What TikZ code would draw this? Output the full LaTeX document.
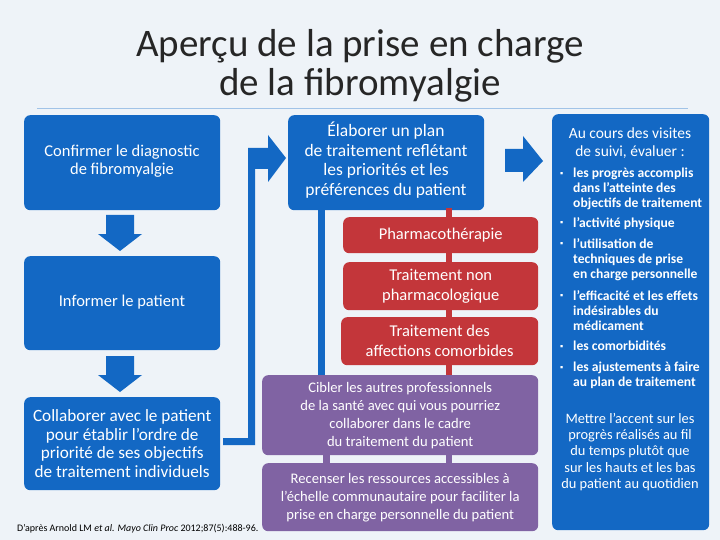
\documentclass[tikz,border=0pt]{standalone}
\usepackage{fontspec}
\setmainfont{Carlito}
\definecolor{bl}{HTML}{1368C4}
\definecolor{rd}{HTML}{C3363A}
\definecolor{pu}{HTML}{8063A3}
\definecolor{bg}{HTML}{EEF3F8}
\begin{document}
\begin{tikzpicture}[x=1pt,y=-1pt,
 box/.style={rounded corners=6pt,text=white,align=center,inner sep=2pt,font=\fontsize{17}{20}\selectfont},
 bbox/.style={box,fill=bl},
 rbox/.style={box,fill=rd,font=\fontsize{16.5}{20}\selectfont},
 pbox/.style={box,fill=pu,font=\fontsize{14.6}{18}\selectfont}]
\fill[bg] (0,0) rectangle (720,540);
\useasboundingbox (0,0) rectangle (720,540);
\node[font=\fontsize{39}{39}\selectfont,text=black!85,align=center] (title) at (360,66) {Aperçu de la prise en charge\\de la fibromyalgie};
\draw[bl!40,line width=0.8pt] (37,108) -- (688,108);
% left column
\node[bbox,minimum width=196pt,minimum height=95pt,anchor=north west] (b1) at (24,115) {};
\node[text=white,align=center,font=\fontsize{16.5}{18.5}\selectfont] at (122,161) {Confirmer le diagnostic\\de fibromyalgie};
\node[bbox,minimum width=196pt,minimum height=94pt,anchor=north west] (b2) at (24,256) {};
\node[text=white,font=\fontsize{16.5}{18}\selectfont] at (122,302) {Informer le patient};
\node[bbox,minimum width=196pt,minimum height=93pt,anchor=north west,font=\fontsize{17.2}{18.5}\selectfont] (b3) at (24,397) {Collaborer avec le patient\\pour établir l'ordre de\\priorité de ses objectifs\\de traitement individuels};
% down arrows
\foreach \y in {215,356}{\fill[bl] (106,\y) -- (134,\y) -- (134,\y+19) -- (142,\y+19) -- (120,\y+36) -- (98,\y+19) -- (106,\y+19) -- cycle;}
% connector
\fill[bl] (223,445) -- (255,445) -- (255,169) -- (268,169) -- (268,182) -- (286,158) -- (268,135) -- (268,148) -- (248,148) -- (248,438) -- (223,438) -- cycle;
% middle
\node[bbox,minimum width=196pt,minimum height=95pt,anchor=north west] (b4) at (288,115) {};
\node[text=white,align=center,font=\fontsize{17.5}{19.5}\selectfont] at (386,160) {Élaborer un plan\\de traitement reflétant\\les priorités et les\\préférences du patient};
\fill[bl] (318,208) rectangle (325,378);
\fill[rd] (446,208) rectangle (452,378);
\fill[pu] (323,450) rectangle (330,466);
\fill[pu] (446,450) rectangle (452,466);
\node[rbox,minimum width=195pt,minimum height=36pt,anchor=north west] (r1) at (343,217) {Pharmacothérapie};
\node[rbox,minimum width=195pt,minimum height=48pt,anchor=north west] (r2) at (343,262) {Traitement non\\pharmacologique};
\node[rbox,minimum width=197pt,minimum height=48pt,anchor=north west] (r3) at (341,317) {Traitement des\\affections comorbides};
\node[pbox,minimum width=276pt,minimum height=80pt,anchor=north west] (p1) at (262,375) {Cibler les autres professionnels\\de la santé avec qui vous pourriez\\collaborer dans le cadre\\du traitement du patient};
\node[pbox,minimum width=276pt,minimum height=68pt,anchor=north west] (p2) at (262,463) {Recenser les ressources accessibles à\\l’échelle communautaire pour faciliter la\\prise en charge personnelle du patient};
% right arrow
\fill[bl] (505,149) -- (523,149) -- (523,136) -- (543,161) -- (523,182) -- (523,172) -- (505,172) -- cycle;
% right box
\node[bbox,minimum width=157pt,minimum height=416pt,anchor=north west] (rb) at (552,114) {};
\node[text=white,align=center,font=\fontsize{15.5}{18}\selectfont] at (630,143) {Au cours des visites\\de suivi, évaluer :};
\begin{scope}[every node/.style={text=white,anchor=north west,align=left,font=\bfseries\fontsize{13.6}{15}\selectfont,inner sep=0pt}]
\node[font=\fontsize{9}{10}\selectfont] at (560,172) {▪};
\node at (573,168) {les progrès accomplis\\dans l’atteinte des\\objectifs de traitement};
\node[font=\fontsize{9}{10}\selectfont] at (560,221) {▪};
\node at (573,217) {l’activité physique};
\node[font=\fontsize{9}{10}\selectfont] at (560,242) {▪};
\node at (573,238) {l’utilisation de\\techniques de prise\\en charge personnelle};
\node[font=\fontsize{9}{10}\selectfont] at (560,294) {▪};
\node at (573,290) {l’efficacité et les effets\\indésirables du\\médicament};
\node[font=\fontsize{9}{10}\selectfont] at (560,345) {▪};
\node at (573,341) {les comorbidités};
\node[font=\fontsize{9}{10}\selectfont] at (560,366) {▪};
\node at (573,362) {les ajustements à faire\\au plan de traitement};
\end{scope}
\node[text=white,align=center,font=\fontsize{14.4}{16.2}\selectfont] at (630,452) {Mettre l’accent sur les\\progrès réalisés au fil\\du temps plutôt que\\sur les hauts et les bas\\du patient au quotidien};
\node[anchor=west,font=\fontsize{10}{11}\selectfont,inner sep=0pt] (src) at (17,529) {D’après Arnold LM \textit{et al.} \textit{Mayo Clin Proc} 2012;87(5):488-96.};
\end{tikzpicture}
\end{document}
